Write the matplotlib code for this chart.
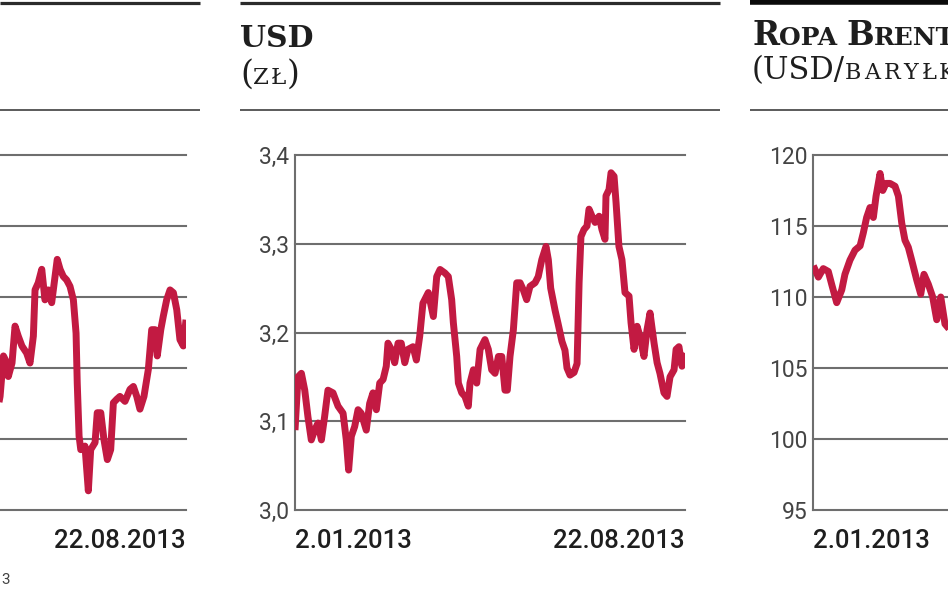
import numpy as np
import matplotlib
matplotlib.use('Agg')
import matplotlib.pyplot as plt

W, H = 948, 593

# x axis: days since 2.01.2013 (22.08.2013 = day 232)
date_ticks = [0, 232]
date_labels = ['2.01.2013', '22.08.2013']

# left panel (cropped - only the end of the series is visible)
left_days = [119, 121.4, 123.4, 125.5, 126.3, 128.5, 130.3, 132.2, 134.4, 137.2, 139.2,
             141.2, 142.2, 144.1, 146.2, 148.1, 150.1, 152.1, 154.1, 155.4, 157.1,
             159.0, 161.0, 163.0, 165.0, 166.6, 167.3, 168.4, 169.4, 171.9, 173.9,
             175.3, 177.9, 179.2, 181.3, 183.2, 185.2, 187.2, 188.8, 190.8, 192.7,
             195.7, 198.7, 200.7, 202.7, 204.6, 207.0, 209.6, 211.6, 213.6, 214.9,
             217.0, 218.5, 220.5, 222.5, 224.5, 226.5, 228.4, 230.4, 232.0]
left_values = [2230, 2260, 2317, 2307, 2288, 2307, 2359, 2345, 2331, 2321, 2307,
               2345, 2410, 2420, 2439, 2396, 2410, 2392, 2429, 2453, 2439,
               2429, 2424, 2415, 2396, 2349, 2279, 2204, 2185, 2190, 2127,
               2185, 2195, 2237, 2237, 2199, 2171, 2185, 2251, 2256, 2260,
               2253, 2270, 2274, 2260, 2242, 2260, 2298, 2354, 2354, 2317,
               2354, 2373, 2396, 2410, 2406, 2382, 2340, 2331, 2368]
left_yticks = [2100, 2200, 2300, 2400, 2500, 2600]

# USD (zł)
usd_days = [0, 1.8, 3.8, 5.8, 7.7, 9.7, 11.7, 13.7, 15.7, 17.6, 19.6, 22.6, 25.6, 28.6,
            30.5, 31.9, 33.5, 35.5, 37.5, 39.4, 42.4, 44.4, 46.4, 48.4, 50.4, 52.4,
            54.3, 55.3, 57.3, 59.3, 61.3, 63.2, 65.3, 67.2, 70.2, 72.2, 74.2, 76.1,
            79.3, 82.3, 84.3, 86.3, 89.2, 91.2, 93.2, 94.2, 96.2, 97.2, 99.2, 101.1,
            103.1, 104.1, 106.1, 108.1, 110.1, 113.0, 115.0, 117.0, 119.0, 121.0,
            123.0, 124.9, 126.3, 127.9, 129.9, 131.9, 133.9, 135.8, 137.8, 139.8,
            142.8, 144.7, 146.8, 149.3, 150.7, 152.1, 154.7, 156.5, 158.8, 160.6,
            161.8, 163.6, 166.0, 167.8, 169.0, 170.1, 171.9, 173.7, 174.9, 176.7,
            178.5, 180.9, 182.6, 184.4, 185.0, 186.8, 188.0, 189.8, 191.0, 192.7,
            194.5, 196.3, 198.7, 199.9, 201.7, 203.5, 205.2, 207.6, 209.4, 211.2,
            213.6, 215.4, 217.1, 219.5, 221.3, 223.1, 225.5, 226.7, 228.4, 230.2, 232.0]
usd_values = [3.090, 3.150, 3.154, 3.135, 3.105, 3.079, 3.090, 3.098, 3.079, 3.105, 3.135,
              3.132, 3.117, 3.109, 3.079, 3.045, 3.083, 3.094, 3.113, 3.109, 3.090,
              3.120, 3.132, 3.113, 3.143, 3.147, 3.162, 3.188, 3.181, 3.166, 3.188,
              3.188, 3.166, 3.181, 3.184, 3.169, 3.196, 3.233, 3.245, 3.218, 3.263,
              3.271, 3.267, 3.263, 3.237, 3.211, 3.173, 3.143, 3.132, 3.128, 3.117,
              3.143, 3.158, 3.143, 3.181, 3.192, 3.181, 3.158, 3.154, 3.173, 3.173,
              3.135, 3.135, 3.173, 3.203, 3.256, 3.256, 3.248, 3.237, 3.252, 3.256,
              3.263, 3.282, 3.297, 3.282, 3.250, 3.225, 3.210, 3.190, 3.180, 3.160,
              3.152, 3.155, 3.165, 3.256, 3.308, 3.316, 3.320, 3.339, 3.331, 3.324,
              3.331, 3.316, 3.305, 3.354, 3.361, 3.380, 3.376, 3.346, 3.297, 3.282,
              3.245, 3.241, 3.211, 3.181, 3.207, 3.196, 3.173, 3.203, 3.222, 3.188,
              3.166, 3.154, 3.132, 3.128, 3.150, 3.158, 3.181, 3.184, 3.162, 3.177]
usd_yticks = [3.0, 3.1, 3.2, 3.3, 3.4]
usd_ylabels = ['3,0', '3,1', '3,2', '3,3', '3,4']

# Ropa Brent (USD/baryłka) - cropped on the right
brent_days = [0.2, 3.2, 6.1, 9.1, 11.1, 14.1, 17.1, 19.0, 22.0, 25.0, 28.0, 29.9, 31.9,
              33.9, 35.9, 37.5, 39.9, 41.5, 43.4, 45.8, 48.8, 50.8, 52.8, 54.7, 56.7,
              58.7, 61.7, 64.1, 66.0, 68.6, 71.2, 73.6, 76.0, 78.5, 82.0]
brent_values = [112.2, 111.4, 112.0, 111.8, 110.9, 109.6, 110.5, 111.6, 112.6, 113.3,
                113.6, 114.5, 115.6, 116.3, 115.6, 117.1, 118.7, 117.5, 118.0, 118.0,
                117.8, 117.1, 115.2, 114.0, 113.5, 112.6, 111.2, 110.2, 111.6, 110.9,
                110.0, 108.4, 110.0, 108.1, 107.6]
brent_yticks = [95, 100, 105, 110, 115, 120]

LINE = '#c21a42'
GRID = '#6e6e6e'
TICKFONT = 'Roboto'

fig = plt.figure(figsize=(W / 100, H / 100), dpi=100)


def frac(x, y):
    return x / W, 1 - y / H


def panel(x0, days, values, yticks, ylabels, xlabels):
    ax = fig.add_axes([x0 / W, 1 - 510 / H, 390 / W, 355 / H])
    ax.plot(days, values, color=LINE, lw=5, solid_joinstyle='round',
            solid_capstyle='butt', zorder=3)
    for v in yticks:
        ax.axhline(v, color=GRID, lw=1.5, clip_on=False, zorder=1)
    ax.set_ylim(yticks[0], yticks[-1])
    ax.set_xlim(date_ticks[0], date_ticks[-1])
    ax.set_yticks(yticks)
    ax.set_yticklabels(ylabels, fontsize=16.5, color='#444444', family=TICKFONT)
    ax.set_xticks(date_ticks)
    ax.set_xticklabels(xlabels, fontsize=18.5, color='#1e1e1e', family=TICKFONT,
                       fontweight='medium')
    xl = ax.get_xticklabels()
    xl[0].set_ha('left')
    xl[1].set_ha('right')
    ax.tick_params(length=0)
    ax.tick_params(axis='y', pad=4)
    ax.tick_params(axis='x', pad=14)
    for s in ['top', 'right', 'bottom']:
        ax.spines[s].set_visible(False)
    ax.spines['left'].set_color(GRID)
    ax.spines['left'].set_linewidth(1.5)
    ax.patch.set_visible(False)
    return ax


# parts of the side panels lying outside the picture carry no labels
panel(-204, left_days, left_values, left_yticks, [''] * len(left_yticks),
      ['', date_labels[1]])
panel(295, usd_days, usd_values, usd_yticks, usd_ylabels, date_labels)
panel(813, brent_days, brent_values, brent_yticks, [str(v) for v in brent_yticks],
      [date_labels[0], ''])


def hline(x0, x1, y, lw, color):
    fig.add_artist(plt.Line2D([x0 / W, x1 / W], [1 - y / H, 1 - y / H],
                              lw=lw, color=color, solid_capstyle='butt'))


# header rules
hline(0, 200, 3, 2.3, '#2b2b2b')
hline(240, 720, 3, 2.3, '#2b2b2b')
hline(750, 948, 2, 4.0, '#0a0a0a')
hline(0, 200, 110, 1.4, '#5a5a5a')
hline(240, 720, 110, 1.4, '#5a5a5a')
hline(750, 948, 110, 1.4, '#5a5a5a')

renderer = fig.canvas.get_renderer()


def title(x, y, parts):
    # parts: (text, size, weight, extra spacing between letters in px)
    for s, size, weight, track in parts:
        chunks = list(s) if track else [s]
        for c in chunks:
            t = fig.text(*frac(x, y), c, fontsize=size, fontweight=weight,
                         family='DejaVu Serif', color='#1e1e1e', va='baseline', ha='left')
            x = t.get_window_extent(renderer).x1 + track


title(240, 47, [('USD', 21.5, 'bold', 0)])
title(240, 84, [('(', 24, 'normal', 0), ('ZŁ', 16.5, 'normal', 1.5), (')', 24, 'normal', 0)])
title(752, 45, [('R', 23.5, 'bold', 0), ('OPA ', 18, 'bold', 0), ('B', 23.5, 'bold', 0),
                ('RENT', 18, 'bold', 0)])
title(752, 79, [('(USD/', 22, 'normal', 0), ('BARYŁKA)', 16, 'normal', 3)])

# cut off source note at the bottom left
fig.text(*frac(1, 584), '3', fontsize=11, color='#444444', ha='left', va='baseline',
         family=TICKFONT)

plt.savefig('out.png', dpi=100)
